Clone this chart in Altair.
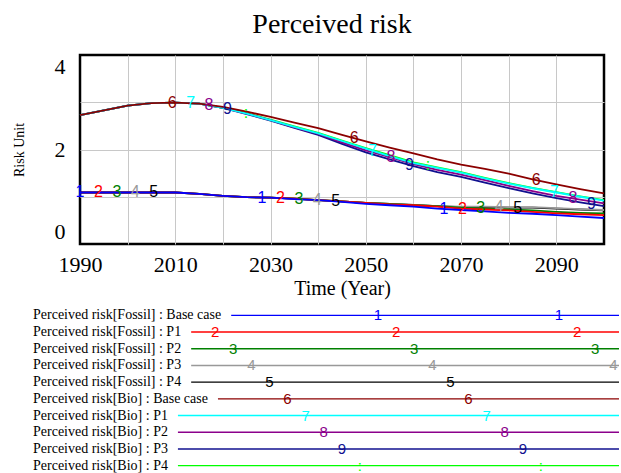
import altair as alt
import pandas as pd
import numpy as np

# ---------------- data ----------------
YEARS = list(range(1990, 2101, 5))

SERIES_NAMES = [
    "Perceived risk[Fossil] : Base case",
    "Perceived risk[Fossil] : P1",
    "Perceived risk[Fossil] : P2",
    "Perceived risk[Fossil] : P3",
    "Perceived risk[Fossil] : P4",
    "Perceived risk[Bio] : Base case",
    "Perceived risk[Bio] : P1",
    "Perceived risk[Bio] : P2",
    "Perceived risk[Bio] : P3",
    "Perceived risk[Bio] : P4",
]
MARKERS = ["1", "2", "3", "4", "5", "6", "7", "8", "9", ":"]
COLORS = ["#0000FF", "#FF0000", "#008000", "#999999", "#000000",
          "#8B0000", "#00FFFF", "#8B008B", "#10108F", "#00FF00"]

FOSSIL_BASE = [1.09, 1.09, 1.09, 1.09, 1.09, 1.06, 1.02, 0.99, 0.98, 0.95, 0.93, 0.89,
               0.85, 0.82, 0.79, 0.75, 0.72, 0.69, 0.66, 0.64, 0.61, 0.58, 0.55]
FOSSIL_P1 = [1.09, 1.09, 1.09, 1.09, 1.09, 1.06, 1.02, 0.99, 0.98, 0.96, 0.93, 0.90,
             0.87, 0.84, 0.82, 0.79, 0.75, 0.73, 0.71, 0.68, 0.65, 0.63, 0.61]
FOSSIL_P2 = [1.09, 1.09, 1.09, 1.09, 1.09, 1.06, 1.02, 0.99, 0.98, 0.96, 0.93, 0.90,
             0.87, 0.85, 0.82, 0.80, 0.77, 0.75, 0.73, 0.71, 0.68, 0.66, 0.65]
FOSSIL_P3 = [1.09, 1.09, 1.09, 1.09, 1.09, 1.06, 1.02, 0.99, 0.98, 0.96, 0.93, 0.90,
             0.87, 0.85, 0.83, 0.80, 0.79, 0.79, 0.78, 0.78, 0.76, 0.74, 0.72]
FOSSIL_P4 = [1.09, 1.09, 1.09, 1.09, 1.09, 1.06, 1.02, 0.99, 0.98, 0.96, 0.93, 0.90,
             0.87, 0.85, 0.83, 0.80, 0.78, 0.78, 0.77, 0.77, 0.75, 0.73, 0.71]
BIO_BASE = [2.73, 2.83, 2.93, 2.98, 2.99, 2.97, 2.90, 2.80, 2.69, 2.57, 2.45, 2.31,
            2.17, 2.04, 1.92, 1.79, 1.68, 1.59, 1.49, 1.37, 1.26, 1.16, 1.07]
BIO_P1 = [2.73, 2.83, 2.93, 2.98, 2.99, 2.97, 2.88, 2.76, 2.62, 2.48, 2.34, 2.18,
          2.02, 1.86, 1.71, 1.61, 1.51, 1.39, 1.28, 1.18, 1.09, 1.00, 0.92]
BIO_P2 = [2.73, 2.83, 2.93, 2.98, 2.99, 2.97, 2.88, 2.76, 2.62, 2.47, 2.33, 2.15,
          1.98, 1.84, 1.69, 1.57, 1.47, 1.35, 1.23, 1.12, 1.02, 0.94, 0.86]
BIO_P3 = [2.73, 2.83, 2.93, 2.98, 2.99, 2.97, 2.88, 2.75, 2.61, 2.46, 2.31, 2.12,
          1.94, 1.79, 1.65, 1.52, 1.42, 1.30, 1.18, 1.07, 0.97, 0.88, 0.80]
BIO_P4 = [2.73, 2.83, 2.93, 2.98, 2.99, 2.97, 2.88, 2.77, 2.63, 2.49, 2.35, 2.19,
          2.03, 1.88, 1.73, 1.62, 1.52, 1.40, 1.29, 1.19, 1.10, 1.01, 0.93]

SERIES_VALUES = [FOSSIL_BASE, FOSSIL_P1, FOSSIL_P2, FOSSIL_P3, FOSSIL_P4,
                 BIO_BASE, BIO_P1, BIO_P2, BIO_P3, BIO_P4]

X_TICKS = list(range(1990, 2101, 10))
Y_TICKS = [0, 1, 2, 3, 4]

# ---------------- layout / style constants ----------------
PLOT_W, PLOT_H = 524, 189
MARK_STEP = 3.87      # years between series labels
MARK_PERIOD = 38.2    # years between repeats of a label
SERIF = "Liberation Serif"
SANS = "Liberation Sans"

LEG_W, LEG_H = 524, 167
LEG_TEXT_X = -47
LEG_GAP = 10
LEG_LINE_END = 539
LEG_MARK_START = 117
LEG_MARK_STEP = 18.1
LEG_MARK_PERIOD = 181
LEG_FONT = 14
LEG_MARK_FONT = 15

TIMES_W = {"P": 556, "e": 444, "r": 333, "c": 444, "i": 278, "v": 500, "d": 500,
           " ": 250, "s": 389, "k": 500, "[": 333, "]": 333, "F": 556, "o": 500,
           "l": 278, ":": 278, "B": 667, "a": 444}


def text_width(s, size):
    return sum(TIMES_W.get(ch, 500) for ch in s) * size / 1000.0


color_scale = alt.Scale(domain=SERIES_NAMES, range=COLORS)

# ---------------- plot ----------------
rows = []
for name, vals in zip(SERIES_NAMES, SERIES_VALUES):
    for yr, v in zip(YEARS, vals):
        rows.append({"year": yr, "value": v, "series": name})
df = pd.DataFrame(rows)

mrows = []
for k, (name, vals) in enumerate(zip(SERIES_NAMES, SERIES_VALUES)):
    j = 0
    while True:
        yr = 1990 + k * MARK_STEP + j * MARK_PERIOD
        if yr > 2100:
            break
        mrows.append({"year": yr, "value": float(np.interp(yr, YEARS, vals)),
                      "series": name, "marker": MARKERS[k]})
        j += 1
mdf = pd.DataFrame(mrows)

x_enc = alt.X("year:Q",
              scale=alt.Scale(domain=[1990, 2100], nice=False, zero=False),
              axis=alt.Axis(values=X_TICKS, format="d",
                            labelExpr="datum.value % 20 == 10 ? datum.label : ''",
                            grid=True, gridColor="#C8C8C8", gridWidth=1,
                            gridOpacity={"condition": {"test": "datum.value == 1990 || datum.value == 2100", "value": 0}, "value": 1},
                            ticks=False, tickSize=0, domain=False,
                            labelFlush=False, labelPadding=10, labelFontSize=22,
                            title="Time (Year)", titleFontSize=20, titlePadding=3))
y_enc = alt.Y("value:Q",
              scale=alt.Scale(domain=[0, 4], nice=False, zero=False),
              axis=alt.Axis(values=Y_TICKS,
                            labelExpr="datum.value % 2 == 0 ? datum.label : ''",
                            grid=True, gridColor="#C8C8C8", gridWidth=1,
                            gridOpacity={"condition": {"test": "datum.value == 0 || datum.value == 4", "value": 0}, "value": 1},
                            ticks=False, tickSize=0, domain=False,
                            labelFlush=True, labelFlushOffset=-1,
                            labelPadding=15, labelFontSize=22,
                            title="Risk Unit", titleFontSize=14, titlePadding=28))

layers = []
for k in reversed(range(len(SERIES_NAMES))):
    sub = df[df["series"] == SERIES_NAMES[k]]
    layers.append(
        alt.Chart(sub).mark_line(strokeWidth=1.8, color=COLORS[k], clip=False)
        .encode(x=x_enc, y=y_enc)
    )
marker_layer = alt.Chart(mdf).mark_text(font=SANS, fontSize=16, baseline="middle", align="center").encode(
    x=x_enc, y=y_enc, text="marker:N",
    color=alt.Color("series:N", scale=color_scale, legend=None))

plot = alt.layer(*layers, marker_layer).properties(
    width=PLOT_W, height=PLOT_H,
    title=alt.TitleParams("Perceived risk", font=SERIF, fontSize=28, fontWeight="normal",
                          color="black", frame="group", anchor="middle", dx=-10,
                          baseline="alphabetic", offset=-6),
    view=alt.ViewBackground(stroke="black", strokeWidth=2.5),
)

# ---------------- legend ----------------
lrows = []
lmrows = []
for i, name in enumerate(SERIES_NAMES):
    start = LEG_TEXT_X + text_width(name, LEG_FONT) + LEG_GAP
    lrows.append({"series": name, "tx": LEG_TEXT_X, "x1": start, "x2": LEG_LINE_END})
    for j in range(4):
        mx = LEG_MARK_START + i * LEG_MARK_STEP + j * LEG_MARK_PERIOD
        if start + 4 <= mx <= LEG_LINE_END:
            lmrows.append({"series": name, "mx": mx, "marker": MARKERS[i]})
ldf = pd.DataFrame(lrows)
lmdf = pd.DataFrame(lmrows)

lx = alt.Scale(domain=[0, LEG_W], nice=False, zero=False)
ly = alt.Y("series:N", sort=SERIES_NAMES, scale=alt.Scale(type="point", padding=0.5), axis=None)

leg_lines = alt.Chart(ldf).mark_rule(strokeWidth=1.4).encode(
    x=alt.X("x1:Q", scale=lx, axis=None), x2="x2:Q", y=ly,
    color=alt.Color("series:N", scale=color_scale, legend=None))
leg_text = alt.Chart(ldf).mark_text(font=SERIF, fontSize=LEG_FONT, align="left",
                                    baseline="middle", color="black").encode(
    x=alt.X("tx:Q", scale=lx, axis=None), y=ly, text="series:N")
leg_marks = alt.Chart(lmdf).mark_text(font=SANS, fontSize=LEG_MARK_FONT, baseline="middle", align="center").encode(
    x=alt.X("mx:Q", scale=lx, axis=None), y=ly, text="marker:N",
    color=alt.Color("series:N", scale=color_scale, legend=None))

legend = alt.layer(leg_lines, leg_text, leg_marks).properties(
    width=LEG_W, height=LEG_H,
    view=alt.ViewBackground(stroke="transparent"),
)

chart = alt.vconcat(plot, legend, spacing=6).properties(
    padding={"left": 10, "top": 9, "right": 0, "bottom": 0},
    background="white",
).configure_axis(
    labelFont=SERIF, titleFont=SERIF, labelColor="black", titleColor="black",
    titleFontWeight="normal",
).configure_view(stroke="transparent")

chart.save("out.html", embed_options={"renderer": "svg", "actions": False})
